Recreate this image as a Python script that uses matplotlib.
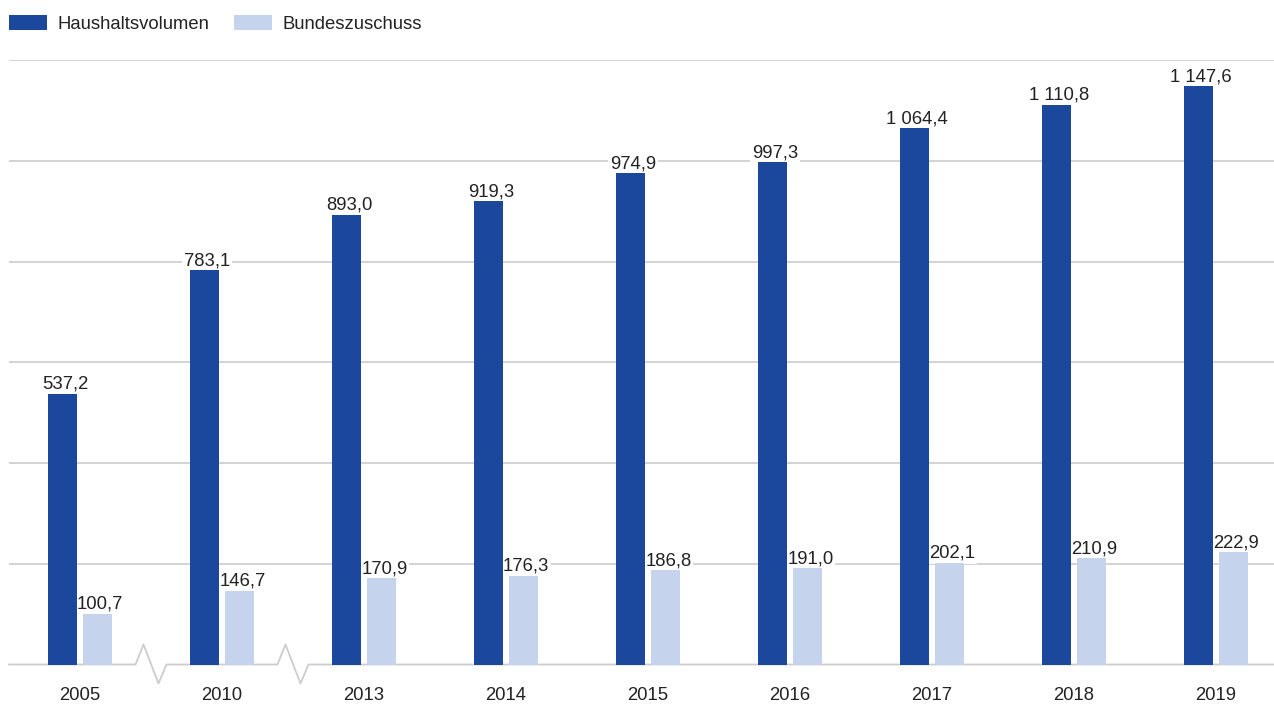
import matplotlib
matplotlib.use("Agg")
import matplotlib.pyplot as plt
from matplotlib.patches import Patch
import numpy as np

plt.rcParams['font.family'] = ['Liberation Sans', 'DejaVu Sans']

years = ["2005", "2010", "2013", "2014", "2015", "2016", "2017", "2018", "2019"]
haushalt = [537.2, 783.1, 893.0, 919.3, 974.9, 997.3, 1064.4, 1110.8, 1147.6]
bund = [100.7, 146.7, 170.9, 176.3, 186.8, 191.0, 202.1, 210.9, 222.9]
series_names = ["Haushaltsvolumen", "Bundeszuschuss"]
colors = ["#1B479C", "#C5D3EC"]
break_after = [0, 1]  # axis breaks between these categories and the next

W, H = 1274, 704
DPI = 100
fig = plt.figure(figsize=(W / DPI, H / DPI), dpi=DPI)

px_per_unit = 142.0
ax_left_px, ax_right_px = 9, 1274
ax_top_px, ax_bot_px = 60, 664.5
ax = fig.add_axes([ax_left_px / W, 1 - ax_bot_px / H,
                   (ax_right_px - ax_left_px) / W, (ax_bot_px - ax_top_px) / H])

x0 = -(80 - ax_left_px) / px_per_unit
x1 = 8 + (ax_right_px - 1216) / px_per_unit
ax.set_xlim(x0, x1)
ax.set_ylim(0, 1200)

def fmt(v):
    s = f"{v:,.1f}"
    return s.replace(",", " ").replace(".", ",")

x = np.arange(len(years))
bw = 29 / px_per_unit
off = 17.5 / px_per_unit
txt_col = "#222222"
fs = 13.3

b1 = ax.bar(x - off, haushalt, width=bw, color=colors[0], zorder=3)
b2 = ax.bar(x + off, bund, width=bw, color=colors[1], zorder=3)

for bars, vals in ((b1, haushalt), (b2, bund)):
    for rect, v in zip(bars, vals):
        ax.annotate(fmt(v), (rect.get_x() + rect.get_width() / 2, v),
                    xytext=(2.0, 3.6), textcoords="offset points",
                    ha="center", va="baseline", fontsize=fs, color=txt_col,
                    zorder=2.5,
                    bbox=dict(boxstyle="square,pad=0.1", fc="white", ec="none"))

grid_col = "#CCCCCC"
ax.set_yticks(np.arange(200, 1201, 200))
ax.yaxis.grid(True, color=grid_col, linewidth=1.2, zorder=0)
ax.set_axisbelow(True)
ax.tick_params(axis="y", left=False, labelleft=False)
ax.set_xticks(x)
ax.set_xticklabels(years, fontsize=fs, color=txt_col)
ax.tick_params(axis="x", length=0, pad=16)
for sp in ax.spines.values():
    sp.set_visible(False)

# Baseline with zigzag axis breaks
ypu = 1200 / (ax_bot_px - ax_top_px)  # data units per pixel
xs = [x0]
ys = [0]
for b in break_after:
    c = b + 0.5 + 0.5 / px_per_unit
    for dx, dy in ((-16, 0), (-8, 20), (7, -19), (15, 0)):
        xs.append(c + dx / px_per_unit)
        ys.append(dy * ypu)
xs.append(x1)
ys.append(0)
ax.plot(xs, ys, color=grid_col, linewidth=1.3, clip_on=False, zorder=2)

handles = [Patch(facecolor=c, edgecolor="none") for c in colors]
leg = fig.legend(handles, series_names, loc="upper left",
                 bbox_to_anchor=(9 / W, 1 - 15 / H), ncol=2, frameon=False,
                 fontsize=fs, handlelength=2.05, handleheight=0.86,
                 handletextpad=0.6, columnspacing=1.3, borderpad=0,
                 borderaxespad=0)
for t in leg.get_texts():
    t.set_color(txt_col)

fig.savefig("out.png", dpi=DPI)
